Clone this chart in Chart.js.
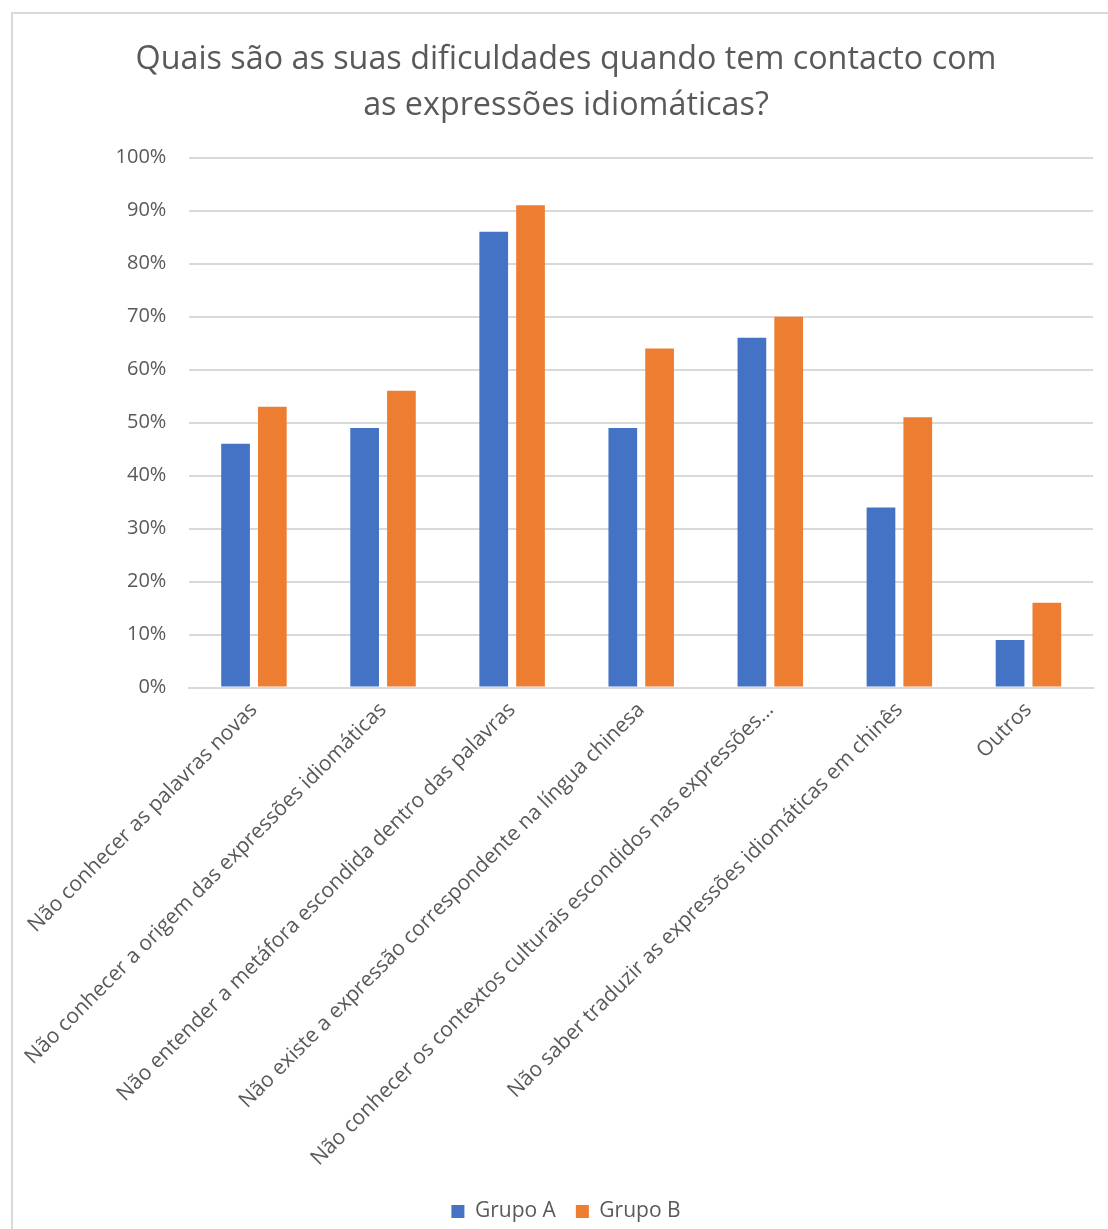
<!DOCTYPE html>
<html>
<head>
<meta charset="utf-8">
<script src="https://cdn.jsdelivr.net/npm/chart.js@4.4.1/dist/chart.umd.min.js"></script>
<style>
    html, body { margin: 0; padding: 0; background: #fff; overflow: hidden; }
    #box {
        position: absolute; left: 11px; top: 12px;
        width: 1110px; height: 1230px;
        border: 2px solid #d9d9d9; box-sizing: border-box; background: #fff;
    }
    #box canvas { display: block; }
</style>
</head>
<body>
<div id="box"><canvas id="chart"></canvas></div>
<script>
const categories = [
    'Não conhecer as palavras novas',
    'Não conhecer a origem das expressões idiomáticas',
    'Não entender a metáfora escondida dentro das palavras',
    'Não existe a expressão correspondente na língua chinesa',
    'Não conhecer os contextos culturais escondidos nas expressões...',
    'Não saber traduzir as expressões idiomáticas em chinês',
    'Outros'
];
const grupoA = [46, 49, 86, 49, 66, 34, 9];
const grupoB = [53, 56, 91, 64, 70, 51, 16];
const titleLines = ['Quais são as suas dificuldades quando tem contacto com', 'as expressões idiomáticas?'];

const font = '"Open Sans", sans-serif';
const grey = '#595959';

document.addEventListener('DOMContentLoaded', function () {
    const canvas = document.getElementById('chart');
    canvas.width = 1106;
    canvas.height = 1226;

    new Chart(canvas, {
        type: 'bar',
        data: {
            labels: categories,
            datasets: [
                { label: 'Grupo A', data: grupoA, backgroundColor: '#4472c4' },
                { label: 'Grupo B', data: grupoB, backgroundColor: '#ed7d31' }
            ]
        },
        options: {
            responsive: false,
            animation: false,
            categoryPercentage: 0.57,
            barPercentage: 0.78,
            layout: { padding: { left: 26, right: 26, top: 10, bottom: 8 } },
            plugins: {
                title: {
                    display: true,
                    text: titleLines,
                    color: grey,
                    font: { family: font, size: 32.3, weight: 'normal', lineHeight: 1.45 },
                    padding: { top: 12, bottom: 28 }
                },
                legend: {
                    position: 'bottom',
                    labels: {
                        color: grey,
                        font: { family: font, size: 21 },
                        boxWidth: 13, boxHeight: 13,
                        padding: 20
                    }
                },
                tooltip: { enabled: false }
            },
            scales: {
                x: {
                    grid: { display: false, drawTicks: false },
                    border: { color: '#d9d9d9', width: 2 },
                    ticks: {
                        color: grey,
                        font: { family: font, size: 21 },
                        maxRotation: 45, minRotation: 45,
                        autoSkip: false,
                        padding: 10
                    }
                },
                y: {
                    min: 0, max: 100,
                    grid: { color: '#d9d9d9', lineWidth: 2, drawTicks: false },
                    border: { display: false },
                    ticks: {
                        stepSize: 10,
                        color: grey,
                        font: { family: font, size: 20 },
                        padding: 23,
                        callback: v => v + '%'
                    }
                }
            }
        }
    });
});
</script>
</body>
</html>
